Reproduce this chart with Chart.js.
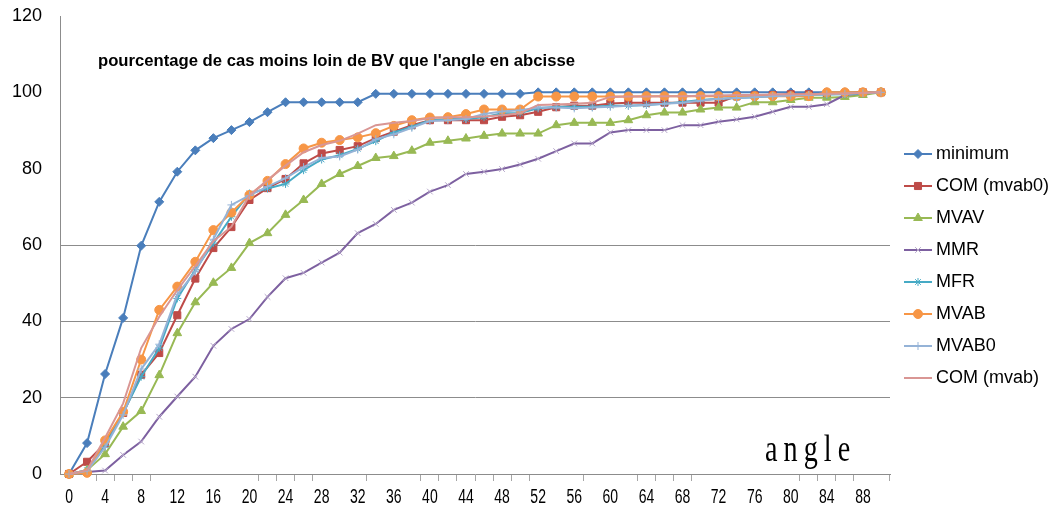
<!DOCTYPE html>
<html lang="fr">
<head>
<meta charset="UTF-8">
<title>pourcentage de cas moins loin de BV</title>
<script src="https://cdn.jsdelivr.net/npm/chart.js"></script>
<style>
  html, body { margin: 0; padding: 0; background: #fff; }
  #wrap { width: 1051px; height: 520px; }
</style>
</head>
<body>
<div id="wrap"><canvas id="chart" width="1051" height="520"></canvas></div>
<script>
// angle categories (degrees)
const angles = [0,2,4,6,8,10,12,14,16,18,20,22,24,26,28,30,32,34,36,38,40,42,44,46,48,50,52,54,56,58,60,62,64,66,68,70,72,74,76,78,80,82,84,86,88,90];
const xTickLabels = ['0','4','8','12','16','20','24','28','32','36','40','44','48','52','56','60','64','68','72','76','80','84','88'];
const yGridValues = [20, 40, 60];
// boundaries between categories where a tick mark is visible in the original
const visibleTickMarks = [2,3,4,5,11,12,13,14,17,20,21,22,23,24,25,26,29,32,33,34,35,41,42,43,44,46];

const minimum   = [0,8.1,26.2,40.9,59.8,71.3,79.2,84.8,88,90.1,92.2,94.8,97.4,97.4,97.4,97.4,97.4,99.6,99.6,99.6,99.6,99.6,99.6,99.6,99.6,99.6,100,100,100,100,100,100,100,100,100,100,100,100,100,100,100,100,100,100,100,100];
const comMvab0  = [0,3.2,8,16,26,31.7,41.6,51.2,59.2,64.7,71.8,74.9,77.3,81.4,84,84.9,85.9,88,89.7,91.4,92.7,92.7,92.7,92.7,93.6,94,94.9,96.1,96.5,96.5,97.1,97.3,97.3,97.3,97.3,97.3,97.3,99,99.2,99.3,99.5,99.5,99.6,99.7,100,100];
const mvav      = [0,1,5.2,12.4,16.5,25.9,36.9,45,50.1,54,60.5,63.1,67.9,71.8,76,78.6,80.7,82.8,83.3,84.7,86.8,87.3,87.9,88.6,89.2,89.2,89.2,91.4,92,92,92,92.7,94,94.7,94.7,95.5,96,96,97.4,97.4,98,98.6,98.6,98.8,99.3,100];
const mmr       = [0,0.5,0.9,5,8.5,15,20.3,25.5,33.6,38,40.6,46.4,51.3,52.7,55.4,58,63.1,65.5,69.2,71.1,74,75.7,78.6,79.2,79.9,81.1,82.6,84.6,86.6,86.6,89.5,90.1,90.1,90.1,91.4,91.4,92.3,92.9,93.6,94.9,96.2,96.2,96.9,99.3,99.7,100];
const mfr       = [0,1,7.5,16,25.5,33,46,53.5,60.5,67.4,73.5,74.8,76,79.6,82.4,83.5,85.2,87.2,89.5,91,92.7,93,93,93.5,94.5,94.6,95.8,96.2,96.2,96.2,96.5,96.5,96.7,97,97.5,98,98.3,98.5,98.7,99,99.2,99.3,99.4,99.5,99.7,100];
const mvab      = [0,0.3,8.8,16.3,30,43,49.1,55.6,63.9,68.5,73.1,76.8,81.2,85.3,86.8,87.5,88.2,89.3,91.2,92.7,93.4,93.5,94.3,95.5,95.5,95.5,98.9,98.9,98.9,98.9,98.9,98.9,99,99,99,99,99,99,99,99,99,99,100,100,100,100];
const mvab0     = [0,0.8,7,15.5,27.5,34,47,53,61.5,70.5,73,75.3,77.5,80.4,82.8,83.2,85,87.7,89,90.7,92.5,92.7,93,94.3,95,95.3,96,96,95.8,96,96.2,96.5,96.7,97,97.3,97.8,98.3,98.5,98.7,99,99.2,99.3,99.5,99.6,99.8,100];
const comMvab   = [0,1,9.5,18.5,33,41.2,48.2,54.5,61,64.8,73,77,80.8,84.3,86.2,87.3,89.2,91.4,92,92.5,93.3,93.5,93.5,93.7,94,94.5,96.7,96.8,97,97.3,98.8,98.9,98.9,99,99,99.1,99.2,99.3,99.3,99.4,99.5,99.5,99.6,99.7,99.8,100];

const series = [
  { label: 'minimum',     data: minimum,  color: '#4a7ebb', mark: '#4a7ebb', style: 'rectRot',  r: 4.5 },
  { label: 'COM (mvab0)', data: comMvab0, color: '#be4b48', mark: '#be4b48', style: 'rect',     r: 5 },
  { label: 'MVAV',        data: mvav,     color: '#98b954', mark: '#98b954', style: 'triangle', r: 5 },
  { label: 'MMR',         data: mmr,      color: '#7d60a0', mark: '#b5a6c9', style: 'crossRot', r: 4 },
  { label: 'MFR',         data: mfr,      color: '#46aac5', mark: '#46aac5', style: 'star',     r: 4 },
  { label: 'MVAB',        data: mvab,     color: '#f79646', mark: '#f79646', style: 'circle',   r: 4.5 },
  { label: 'MVAB0',       data: mvab0,    color: '#95b3d7', mark: '#95b3d7', style: 'cross',    r: 4 },
  { label: 'COM (mvab)',  data: comMvab,  color: '#d99694', mark: '#d99694', style: false,      r: 0 }
];

const decor = {
  id: 'decor',
  afterDraw(chart) {
    const ctx = chart.ctx;
    const xs = chart.scales.x;
    ctx.save();

    // x tick labels, drawn condensed like the original
    ctx.fillStyle = '#000';
    ctx.textAlign = 'center';
    ctx.textBaseline = 'middle';
    ctx.font = '20px "Liberation Sans", Arial, sans-serif';
    angles.forEach((a, i) => {
      if (!xTickLabels.includes(String(a))) return;
      const px = xs.getPixelForValue(i);
      ctx.save();
      ctx.translate(px, 497);
      ctx.scale(0.7, 1);
      ctx.fillText(String(a), 0, 0);
      ctx.restore();
    });

    // title text box
    const title = "pourcentage de cas moins loin de BV que l'angle en abcisse";
    ctx.font = 'bold 15px "Liberation Sans", Arial, sans-serif';
    const w = ctx.measureText(title).width;
    const fs = 15 * 477 / w;
    ctx.font = 'bold ' + fs.toFixed(2) + 'px "Liberation Sans", Arial, sans-serif';
    ctx.textAlign = 'left';
    ctx.fillText(title, 98, 61);

    // "angle" label
    ctx.save();
    ctx.font = '37px "Liberation Serif", "Times New Roman", serif';
    ctx.letterSpacing = '8px';
    ctx.translate(765, 461);
    ctx.scale(0.76, 1);
    ctx.textBaseline = 'alphabetic';
    ctx.fillText('angle', 0, 0);
    ctx.restore();

    // legend
    ctx.font = '18px "Liberation Sans", Arial, sans-serif';
    ctx.textBaseline = 'middle';
    series.forEach((s, i) => {
      const y = 154 + 32 * i;
      ctx.strokeStyle = s.color;
      ctx.lineWidth = 2;
      ctx.beginPath();
      ctx.moveTo(904, y);
      ctx.lineTo(932, y);
      ctx.stroke();
      if (s.style) {
        ctx.fillStyle = s.mark;
        ctx.strokeStyle = s.mark;
        ctx.lineWidth = 1;
        Chart.helpers.drawPoint(ctx, { pointStyle: s.style, radius: s.r, borderWidth: 1, rotation: 0 }, 918, y);
      }
      ctx.fillStyle = '#000';
      ctx.fillText(s.label, 936, y);
    });
    ctx.restore();
  }
};

new Chart(document.getElementById('chart'), {
  type: 'line',
  data: {
    labels: angles.map(String),
    datasets: series.map((s, i) => ({
      label: s.label,
      data: s.data,
      borderColor: s.color,
      backgroundColor: s.mark,
      pointBackgroundColor: s.mark,
      pointBorderColor: s.mark,
      pointStyle: s.style,
      pointRadius: s.r,
      pointBorderWidth: 1,
      borderWidth: 2,
      tension: 0,
      fill: false,
      clip: false,
      order: series.length - i
    }))
  },
  options: {
    responsive: false,
    animation: false,
    layout: { padding: { left: 0, right: 161, top: 16, bottom: 0 } },
    plugins: {
      legend: { display: false },
      tooltip: { enabled: false }
    },
    scales: {
      x: {
        type: 'category',
        offset: true,
        afterFit: s => { s.height = 46; s.paddingLeft = 0; s.paddingRight = 0; },
        grid: {
          offset: true,
          drawOnChartArea: false,
          drawTicks: true,
          tickLength: 7,
          tickColor: c => visibleTickMarks.includes(c.index === undefined ? 46 : c.index) ? '#a6a6a6' : 'rgba(0,0,0,0)'
        },
        border: { display: true, color: '#8c8c8c', width: 1 },
        ticks: {
          autoSkip: false,
          maxRotation: 0,
          padding: 6,
          color: '#000',
          font: { size: 18 },
          callback: () => ''
        }
      },
      y: {
        min: 0,
        max: 120,
        afterFit: s => { s.width = 60; s.paddingTop = 0; s.paddingBottom = 0; },
        grid: {
          drawTicks: false,
          color: c => yGridValues.includes(c.tick && c.tick.value) ? '#8c8c8c' : 'rgba(0,0,0,0)'
        },
        border: { display: true, color: '#8c8c8c', width: 1 },
        ticks: {
          stepSize: 20,
          padding: 18,
          color: '#000',
          font: { family: '"Liberation Sans", Arial, sans-serif', size: 18 }
        }
      }
    }
  },
  plugins: [decor]
});
</script>
</body>
</html>
